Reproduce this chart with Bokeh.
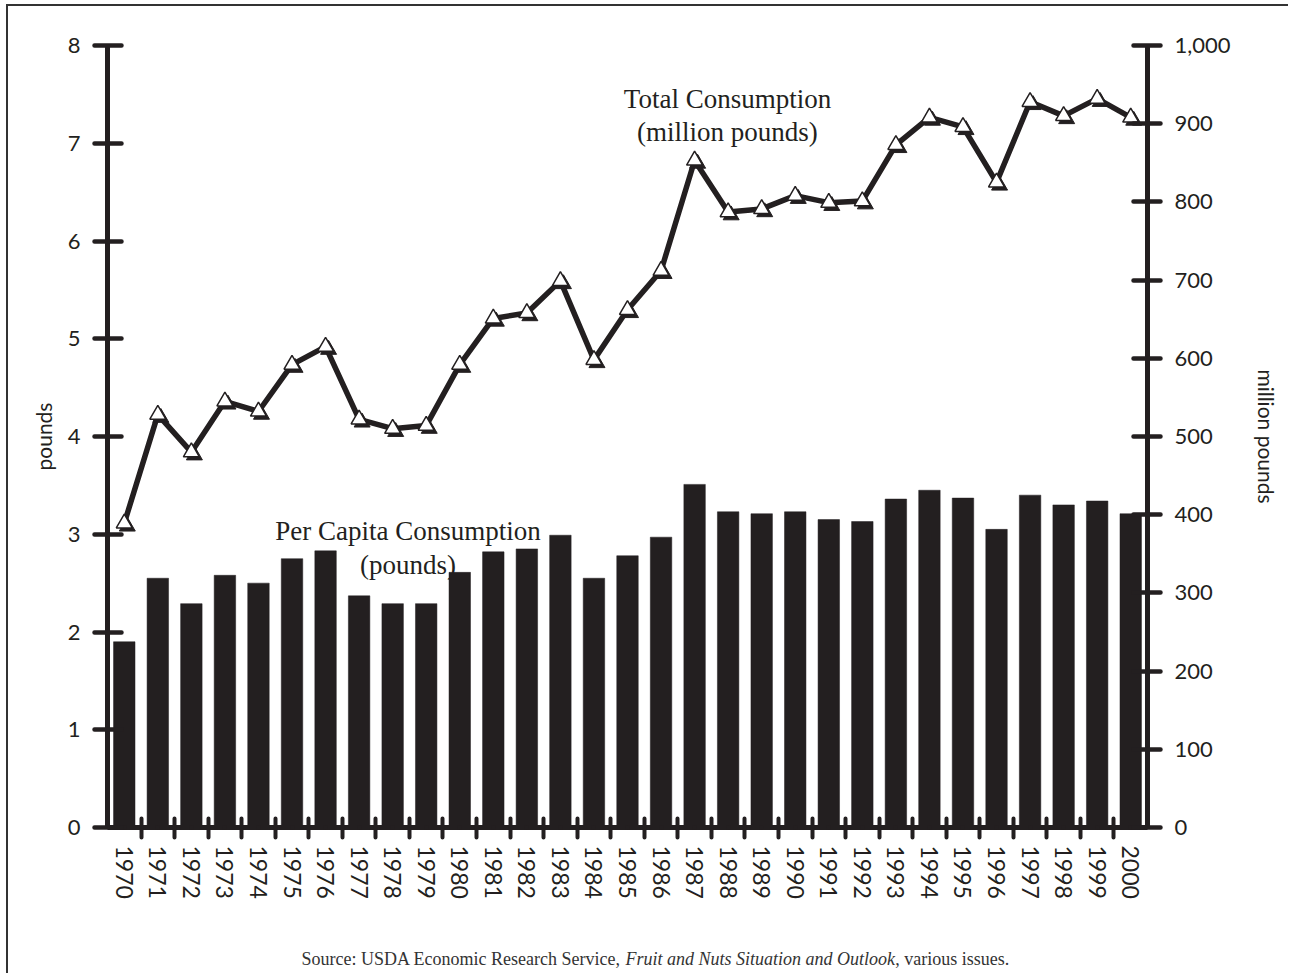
import math
from bokeh.plotting import figure
from bokeh.layouts import column
from bokeh.models import (Range1d, LinearAxis, FixedTicker, NumeralTickFormatter,
                          Label, ColumnDataSource)
from bokeh.transform import dodge
from bokeh.embed import file_html
from bokeh.resources import INLINE

# ---- data ----
years = list(range(1970, 2001))
per_capita = [1.90, 2.55, 2.29, 2.58, 2.50, 2.75, 2.83, 2.37, 2.29, 2.29,
              2.61, 2.82, 2.85, 2.99, 2.55, 2.78, 2.97, 3.51, 3.23, 3.21,
              3.23, 3.15, 3.13, 3.36, 3.45, 3.37, 3.05, 3.40, 3.30, 3.34,
              3.21]
total = [389, 528, 480, 545, 532, 592, 615, 522, 510, 514,
         592, 651, 658, 699, 598, 662, 712, 853, 787, 791,
         808, 799, 801, 873, 908, 896, 825, 928, 910, 932,
         908]
left_ticks = [0, 1, 2, 3, 4, 5, 6, 7, 8]
right_ticks = [0, 100, 200, 300, 400, 500, 600, 700, 800, 900, 1000]

INK = "#231f20"
src = ColumnDataSource(dict(year=years, per_capita=per_capita, total=total))

W = 1280
xr = Range1d(1969.5, 2000.5)
p = figure(width=W, height=931,
           x_range=xr, y_range=Range1d(0, 8),
           output_backend="svg", toolbar_location=None,
           min_border_left=99, min_border_right=W - 99 - 1040,
           min_border_top=39, min_border_bottom=931 - 39 - 782)
p.extra_y_ranges = {"total": Range1d(0, 1000)}
p.grid.visible = False
p.outline_line_color = None
p.background_fill_color = "white"
p.border_fill_color = "white"

p.vbar(x="year", top="per_capita", bottom=0, width=0.64, source=src,
       fill_color=INK, line_color=INK, line_width=0.5)
p.line(x="year", y="total", source=src, y_range_name="total",
       line_color=INK, line_width=5.5)
p.scatter(x=dodge("year", 0.09), y=dodge("total", -4.0), source=src,
          y_range_name="total", marker="triangle", size=16,
          fill_color=INK, line_color=INK)
p.scatter(x="year", y="total", source=src, y_range_name="total",
          marker="triangle", size=16, fill_color="white",
          line_color=INK, line_width=1.5)


def style_axis(ax):
    ax.axis_line_width = 5
    ax.axis_line_color = INK
    ax.major_tick_line_width = 4.5
    ax.major_tick_line_color = INK
    ax.major_tick_line_cap = "round"
    ax.major_tick_in = 14
    ax.major_tick_out = 13
    ax.minor_tick_line_color = None
    ax.major_label_text_font = "Lato"
    ax.major_label_text_font_size = "22px"
    ax.major_label_text_color = INK
    ax.major_label_standoff = 14
    ax.axis_label_text_font = "Lato"
    ax.axis_label_text_font_size = "21px"
    ax.axis_label_text_font_style = "normal"
    ax.axis_label_text_color = INK


ly = p.yaxis[0]
style_axis(ly)
ly.ticker = FixedTicker(ticks=left_ticks, minor_ticks=[])
ly.axis_label = "pounds"
ly.axis_label_standoff = 9

ry = LinearAxis(y_range_name="total",
                ticker=FixedTicker(ticks=right_ticks, minor_ticks=[]),
                formatter=NumeralTickFormatter(format="0,0"),
                axis_label="million pounds")
style_axis(ry)
ry.axis_label_standoff = 20
p.add_layout(ry, "right")

bx = p.xaxis[0]
style_axis(bx)
bx.ticker = FixedTicker(ticks=years, minor_ticks=[y + 0.5 for y in years[:-1]])
bx.major_tick_in = 0
bx.major_tick_out = 0
bx.minor_tick_line_color = INK
bx.minor_tick_line_width = 4
bx.minor_tick_line_cap = "round"
bx.minor_tick_in = 9
bx.minor_tick_out = 10
bx.major_label_orientation = -math.pi / 2
bx.major_label_standoff = 8
bx.major_label_text_font_size = "23px"

serif = "Liberation Serif"
for txt, x, y in [("Total Consumption", 1987.98, 7.45),
                  ("(million pounds)", 1987.98, 7.12),
                  ("Per Capita Consumption", 1978.46, 3.03),
                  ("(pounds)", 1978.46, 2.69)]:
    p.add_layout(Label(x=x, y=y, text=txt, text_align="center",
                       text_baseline="alphabetic", text_font=serif,
                       text_font_size="27px", text_color=INK))

# ---- source note (own strip below the chart, same x scale) ----
H2 = 36
p2 = figure(width=W, height=H2, x_range=xr, y_range=Range1d(0, H2),
            output_backend="svg", toolbar_location=None,
            min_border_left=99, min_border_right=W - 99 - 1040,
            min_border_top=0, min_border_bottom=0)
p2.axis.visible = False
p2.grid.visible = False
p2.outline_line_color = None
p2.background_fill_color = "white"
p2.border_fill_color = "white"

GREY = "#333333"
src_y = 15
x_it = 1984.94
x_end = 1992.98
p2.add_layout(Label(x=x_it, y=src_y, text="Source: USDA Economic Research Service, ",
                    text_align="right", text_baseline="alphabetic", text_font=serif,
                    text_font_size="18px", text_color=GREY))
p2.add_layout(Label(x=x_it, y=src_y, text="Fruit and Nuts Situation and Outlook",
                    text_align="left", text_baseline="alphabetic", text_font=serif,
                    text_font_style="italic", text_font_size="18px", text_color=GREY))
p2.add_layout(Label(x=x_end, y=src_y, text=", various issues.",
                    text_align="left", text_baseline="alphabetic", text_font=serif,
                    text_font_size="18px", text_color=GREY))

layout = column(p, p2, spacing=0)
layout.styles = {"margin-left": "6px", "margin-top": "4px",
                 "border-left": "2px solid #333333",
                 "border-top": "2px solid #333333"}

open("out.html", "w").write(file_html(layout, INLINE))
